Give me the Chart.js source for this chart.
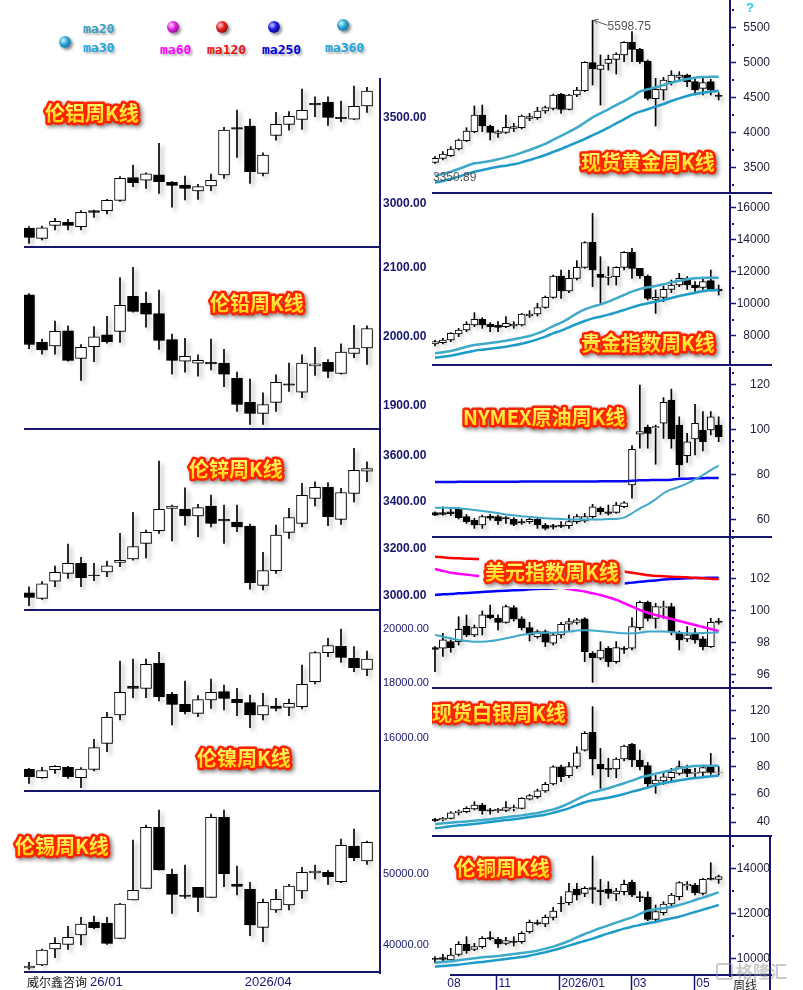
<!DOCTYPE html>
<html>
<head>
<meta charset="utf-8">
<title>周K线</title>
<script src="https://cdn.jsdelivr.net/npm/chart.js@4.4.1/dist/chart.umd.min.js"></script>
<style>
  body { margin: 0; background: #fff; }
  #page { position: relative; width: 803px; height: 990px; overflow: hidden; background: #fff; }
  #charts canvas { position: absolute; }
  .ball { position: absolute; width: 12px; height: 12px; border-radius: 50%; box-shadow: 2px 2px 3px rgba(0,0,0,0.45); }
  .ma { position: absolute; font: bold 13px "DejaVu Sans Mono", monospace; line-height: 14px; text-shadow: 2px 2px 2px rgba(0,0,0,0.3); }
  .note { position: absolute; font: 12px "Noto Sans CJK SC", sans-serif; line-height: 14px; white-space: nowrap; }
  .mark { position: absolute; left: 716px; top: 961px; font: bold 17px "Noto Sans CJK SC"; color: rgba(150,150,150,0.5); line-height: 20px; white-space: nowrap; }
  .mark span { display: inline-block; width: 13px; height: 13px; border: 2px solid rgba(150,150,150,0.5); border-radius: 3px; margin-right: 3px; vertical-align: -2px; }
</style>
</head>
<body>
<div id="page">
  <div id="charts"></div>
  <div class="ball" style="left:59px;top:36px;background:radial-gradient(circle at 35% 35%,#d8f4ff 0,#2aa6d6 40%,#0b4f70 100%)"></div>
  <div class="ma" style="left:83px;top:22px;color:#3a9fbf">ma20</div>
  <div class="ma" style="left:83px;top:41px;color:#1ea8e0">ma30</div>
  <div class="ball" style="left:167px;top:21px;background:radial-gradient(circle at 35% 35%,#ffd8ff 0,#e020e0 40%,#600060 100%)"></div>
  <div class="ma" style="left:160px;top:43px;color:#ff00ff">ma60</div>
  <div class="ball" style="left:216px;top:21px;background:radial-gradient(circle at 35% 35%,#ffd0d0 0,#e02020 40%,#600000 100%)"></div>
  <div class="ma" style="left:207px;top:43px;color:#ee1111">ma120</div>
  <div class="ball" style="left:268px;top:21px;background:radial-gradient(circle at 35% 35%,#c8c8ff 0,#1a1ae0 40%,#000060 100%)"></div>
  <div class="ma" style="left:262px;top:43px;color:#0000dd">ma250</div>
  <div class="ball" style="left:337px;top:19px;background:radial-gradient(circle at 35% 35%,#d8f4ff 0,#2aa6d6 40%,#0b4f70 100%)"></div>
  <div class="ma" style="left:325px;top:41px;color:#22a4d8">ma360</div>
  <div class="note" style="left:746px;top:0px;color:#22ccdd;font:bold 13px 'Liberation Sans'">?</div>
  <div class="note" style="left:27px;top:975px;color:#111">威尔鑫咨询</div>
  <div class="note" style="left:733px;top:978px;color:#222">周线</div>
  <div class="mark"><span></span>格隆汇</div>
</div>
<script>
// weekly OHLC rows: [open, high, low, close]
const aluminium = [
  [2858,2868,2771,2806],[2800,2872,2791,2862],[2876,2917,2849,2899],[2893,2911,2849,2876],
  [2868,2961,2849,2951],[2961,2965,2922,2951],[2961,3027,2942,3021],[3021,3159,3015,3149],
  [3153,3227,3101,3124],[3139,3182,3091,3176],[3169,3353,3062,3130],[3128,3130,2981,3108],
  [3110,3163,3023,3091],[3076,3114,3027,3101],[3105,3174,3077,3137],[3169,3446,3149,3430],
  [3444,3546,3271,3436],[3453,3494,3120,3188],[3178,3298,3163,3285],[3399,3533,3372,3463],
  [3463,3537,3430,3510],[3492,3669,3434,3545],[3585,3624,3508,3577],[3591,3624,3457,3504],
  [3504,3599,3479,3496],[3494,3686,3490,3568],[3570,3678,3533,3657]
];
const lead = [
  [2061,2063,1983,1989],[1992,1997,1975,1981],[1987,2023,1975,2008],[2009,2016,1965,1966],
  [1969,1989,1937,1985],[1986,2015,1964,2000],[2003,2030,1991,1993],[2008,2086,1992,2046],
  [2059,2101,2036,2037],[2049,2065,2014,2033],[2034,2068,1982,1995],[1996,2004,1946,1966],
  [1965,1998,1949,1972],[1962,1974,1943,1966],[1963,1997,1952,1961],[1962,1982,1928,1946],
  [1940,1949,1892,1902],[1905,1939,1873,1889],[1889,1919,1873,1902],[1905,1945,1892,1934],
  [1932,1962,1921,1930],[1920,1974,1912,1962],[1958,1985,1944,1961],[1963,1967,1941,1950],
  [1947,1990,1946,1978],[1976,2017,1970,1984],[1984,2016,1960,2012]
];
const zinc = [
  [3011,3037,2956,2991],[2987,3059,2983,3050],[3061,3126,3037,3099],[3094,3220,3073,3137],
  [3137,3163,3037,3076],[3087,3137,3063,3084],[3101,3147,3080,3127],[3141,3266,3123,3150],
  [3156,3356,3151,3209],[3223,3280,3161,3270],[3277,3576,3266,3369],[3373,3387,3233,3383],
  [3370,3461,3301,3341],[3341,3390,3251,3376],[3383,3430,3294,3309],[3326,3387,3223,3319],
  [3314,3387,3273,3294],[3297,3306,3027,3054],[3043,3184,3023,3106],[3106,3301,3094,3259],
  [3270,3373,3244,3334],[3309,3480,3294,3429],[3416,3487,3383,3463],[3463,3484,3299,3337],
  [3326,3459,3304,3441],[3437,3630,3401,3536],[3533,3573,3487,3544]
];
const nickel = [
  [14832,14869,14318,14563],[14526,14905,14502,14783],[14820,14966,14685,14942],[14905,14942,14502,14563],
  [14526,14893,14159,14844],[14832,15933,14771,15627],[15786,16924,15480,16740],[16826,18807,16642,17658],
  [17878,18881,17462,17804],[17804,18881,17462,18685],[18722,19125,17339,17498],[17584,17658,16459,17217],
  [17217,18073,16862,16948],[16887,17535,16764,17389],[17377,18147,17070,17658],[17682,17927,17009,17437],
  [17401,17804,16801,17278],[17278,17560,16361,16826],[16826,17621,16642,17168],[17156,17437,16972,17070],
  [17107,17413,16801,17254],[17132,18661,17046,17951],[18049,19150,17964,19113],[19113,19639,18966,19370],
  [19346,19982,18759,18942],[18905,19334,18416,18563],[18502,19175,18269,18881]
];
const tin = [
  [36754,37553,36567,37036],[37177,39431,37083,39290],[39431,41027,38210,40229],[40088,42623,39384,41074],
  [41402,43891,39994,42952],[43187,44079,42248,42435],[43046,43891,40088,40229],[40933,45863,40933,45769],
  [46332,54783,46332,47694],[47975,56896,47975,56567],[56614,59009,50558,50558],[49947,50699,44454,47130],
  [47036,51262,46567,46849],[48116,48116,44689,46708],[46708,58445,46708,57976],[57976,59009,48210,50041],
  [48586,51121,47036,48257],[47835,48821,41309,42811],[42482,46473,40463,46004],[44924,47835,44595,46426],
  [45628,48539,44924,48304],[47600,50933,46567,50229],[50135,51262,49290,50417],[50229,50511,48539,49619],
  [48914,54924,48773,54032],[53938,56333,51872,52295],[51825,54642,51356,54455]
];
const gold = [
  [3574,3655,3560,3631],[3631,3726,3608,3693],[3669,3798,3655,3764],[3764,3907,3750,3893],
  [3883,4068,3869,4021],[4011,4377,3997,4249],[4249,4391,4011,4092],[4092,4106,3893,4002],
  [3988,4035,3931,4011],[4002,4249,3988,4073],[4059,4130,4011,4083],[4068,4249,4049,4235],
  [4201,4273,4168,4225],[4211,4358,4187,4306],[4306,4377,4273,4353],[4344,4548,4320,4534],
  [4543,4558,4273,4330],[4330,4543,4320,4534],[4534,4643,4510,4605],[4596,5009,4581,5000],
  [4995,5598.75,4676,4905],[4900,5104,4391,4962],[4985,5104,4890,5042],[5042,5137,4833,5118],
  [5104,5294,5009,5285],[5285,5437,5009,5185],[5185,5199,4985,5009],[5019,5033,4463,4486],
  [4482,4771,4092,4615],[4605,4786,4463,4748],[4724,4881,4676,4819],[4786,4866,4724,4819],
  [4819,4833,4653,4724],[4724,4757,4534,4605],[4629,4771,4534,4710],[4724,4757,4534,4605],
  [4534,4567,4463,4515]
];
const goldMa20 = [3380,3408,3441,3479,3522,3560,3574,3593,3617,3645,3674,3712,3750,3793,3836,3893,3950,4007,4068,4140,
  4216,4273,4330,4391,4448,4510,4581,4615,4643,4676,4710,4738,4762,4781,4790,4795,4795];
const goldMa30 = [3284,3308,3337,3370,3408,3441,3465,3489,3512,3527,3546,3574,3608,3641,3679,3722,3764,3812,3859,3907,
  3959,4011,4068,4130,4187,4249,4296,4330,4368,4406,4448,4486,4520,4548,4567,4581,4596];
const goldPeakWeek = 20;
const goldRangeLow = 3350.89;
const precious = [
  [7481,7730,7356,7626],[7564,7835,7481,7730],[7730,8189,7626,8147],[8105,8459,7939,8355],
  [8355,8876,8251,8710],[8668,9439,8564,9022],[9022,9126,8459,8668],[8710,8814,8251,8564],
  [8668,8876,8251,8522],[8564,9189,8501,8772],[8605,8876,8459,8730],[8668,9397,8605,9355],
  [9230,9563,9147,9355],[9355,10022,9230,9751],[9772,10480,9709,10397],[10397,11792,10334,11730],
  [11730,12105,10334,10792],[10792,12105,10688,11584],[11584,12688,11480,12271],[12271,13875,12209,13813],
  [13834,15646,11063,12105],[11834,12938,10022,11646],[11646,12313,11168,11730],[11688,12313,11168,12271],
  [12271,13251,12105,13209],[13209,13459,11584,12209],[12209,12209,11584,11730],[11730,11792,10230,10334],
  [10272,10855,9397,10397],[10397,11105,10126,10897],[10897,11480,10688,11168],[11168,11896,11063,11584],
  [11584,11688,10897,11168],[11168,11376,10751,11001],[11022,11646,10897,11376],[11438,12105,10855,10897],
  [10917,11168,10542,10792]
];
const preciousMa20 = [6897,6960,7043,7168,7314,7418,7481,7543,7606,7689,7772,7876,7981,8147,8355,8605,8814,9084,9397,9647,
  9814,9959,10126,10334,10542,10751,10917,11022,11105,11209,11334,11438,11521,11584,11626,11626,11626];
const preciousMa30 = [6626,6689,6752,6856,6960,7064,7127,7189,7252,7314,7397,7501,7626,7772,7939,8147,8314,8522,8730,8918,
  9084,9189,9314,9460,9605,9772,9918,10022,10126,10230,10355,10480,10584,10688,10772,10834,10855];
const oil = [
  [63.0,63.4,61.7,61.9],[63.0,65.6,61.9,62.2],[63.4,64.9,61.7,62.5],[64.6,65.2,60.2,60.8],
  [61.2,62.2,58.2,59.0],[59.7,60.5,56.0,57.5],[57.5,61.9,56.0,61.2],[61.5,62.2,59.7,60.5],
  [61.2,61.9,57.8,59.3],[60.8,61.2,58.2,60.2],[60.0,60.8,57.2,57.8],[59.0,60.2,57.8,58.4],
  [59.0,60.5,58.2,60.0],[60.0,60.5,56.0,57.5],[57.5,58.2,55.3,56.0],[57.2,57.8,55.7,56.5],
  [57.5,59.0,56.3,56.9],[57.2,61.9,56.0,59.0],[59.0,62.2,58.2,61.2],[59.3,62.7,58.7,61.2],
  [61.2,66.7,60.5,65.6],[64.9,65.6,62.2,63.4],[63.4,66.4,61.9,62.7],[63.1,67.6,62.7,66.4],
  [65.6,67.9,65.2,67.4],[75.3,92.8,69.4,91.1],[97.9,119.7,91.6,99.0],[100.9,101.9,91.6,98.2],
  [100.7,101.9,84.5,101.2],[102.7,114.1,96.0,112.0],[113.0,117.9,91.6,95.7],[101.9,105.6,79.0,84.2],
  [88.3,98.2,85.3,94.5],[95.7,111.1,88.6,102.7],[99.7,107.9,90.4,94.5],[99.7,107.9,97.5,105.6],
  [101.9,105.6,94.5,96.7]
];
const oilMa20 = [65.2,65.2,65.1,64.9,64.6,64.2,63.7,63.3,62.8,62.2,61.8,61.4,61.1,60.8,60.5,60.3,60.2,60.0,60.0,60.0,
  60.0,60.0,60.2,60.2,60.8,62.7,64.9,66.7,68.9,71.6,73.3,74.5,76.0,77.8,79.7,81.9,83.9];
const oilMa250 = [76.6,76.6,76.6,76.7,76.7,76.7,76.7,76.7,76.7,76.7,76.7,76.8,76.8,76.8,76.8,76.8,76.8,76.8,76.8,76.8,
  76.8,76.9,76.9,76.9,76.9,77.2,77.4,77.4,77.5,77.5,77.6,78.0,78.1,78.2,78.3,78.4,78.4];
const usd = [
  [97.67,97.73,96.17,97.56],[97.63,98.56,97.11,98.15],[98.04,98.15,97.38,97.67],[98.04,99.60,97.83,98.81],
  [99.02,99.71,98.35,98.46],[98.46,99.08,98.35,98.92],[98.92,99.96,98.46,99.71],[99.71,100.33,99.46,99.54],
  [99.50,99.71,98.77,99.25],[99.25,100.33,99.19,100.23],[100.17,100.29,99.33,99.46],[99.46,99.60,98.77,98.92],
  [98.92,99.25,98.08,98.46],[98.35,98.77,98.25,98.67],[98.67,98.77,97.73,98.00],[97.94,98.56,97.83,98.46],
  [98.46,99.25,98.25,99.13],[99.13,99.50,98.67,99.29],[99.25,99.50,99.13,99.40],[99.46,99.54,96.79,97.42],
  [97.31,97.42,95.50,97.04],[97.00,98.04,96.90,97.52],[97.63,97.73,96.48,96.79],[96.79,98.04,96.69,97.67],
  [97.63,97.73,97.31,97.56],[97.63,99.54,97.52,98.98],[98.92,100.58,98.77,100.50],[100.50,100.58,99.33,99.50],
  [99.50,100.44,98.88,100.23],[100.17,100.58,99.50,100.23],[100.23,100.44,98.46,98.67],[98.56,98.71,97.52,98.15],
  [98.21,98.98,98.04,98.46],[98.50,98.88,97.94,98.15],[98.21,98.35,97.52,97.73],[97.73,99.50,97.67,99.25],
  [99.33,99.50,99.13,99.25]
];
const usdMa20 = [98.46,98.35,98.25,98.15,98.08,98.04,98.04,98.08,98.15,98.25,98.35,98.46,98.54,98.58,98.60,98.60,98.63,98.67,98.73,98.75,
  98.73,98.69,98.65,98.60,98.56,98.56,98.60,98.67,98.67,98.67,98.65,98.60,98.56,98.56,98.58,98.60,98.63];
const usdMa60 = [102.58,102.46,102.35,102.29,102.23,102.17,102.13,102.08,102.04,102.00,101.94,101.85,101.77,101.69,101.60,101.52,101.42,101.33,101.25,101.17,
  101.06,100.96,100.81,100.65,100.44,100.23,100.02,99.85,99.71,99.58,99.46,99.33,99.21,99.08,98.96,98.83,98.71];
const usdMa120 = [103.35,103.31,103.27,103.25,103.23,103.21,103.19,103.15,103.10,103.06,103.02,102.98,102.94,102.90,102.85,102.81,102.77,102.73,102.69,102.65,
  102.60,102.56,102.52,102.48,102.42,102.35,102.27,102.19,102.15,102.13,102.10,102.08,102.06,102.04,102.00,101.98,101.94];
const usdMa250 = [100.96,101.00,101.02,101.06,101.08,101.12,101.15,101.17,101.21,101.23,101.25,101.27,101.31,101.33,101.35,101.37,101.42,101.44,101.46,101.50,
  101.52,101.56,101.58,101.62,101.67,101.73,101.79,101.83,101.87,101.92,101.96,101.98,102.00,102.02,102.02,102.04,102.04];
const silver = [
  [42.0,42.7,40.3,41.0],[41.5,43.4,40.8,42.7],[42.7,47.5,42.2,46.7],[46.7,48.7,45.1,47.9],
  [47.5,51.0,46.7,49.8],[49.4,54.6,48.7,52.2],[52.2,53.4,45.6,48.2],[48.7,49.8,45.6,47.9],
  [48.2,49.8,47.0,49.1],[48.4,54.6,47.5,50.3],[49.4,52.2,47.9,50.3],[49.8,57.5,49.4,57.0],
  [56.5,59.9,55.8,58.9],[58.2,63.7,57.0,62.3],[62.3,68.5,61.3,67.0],[67.3,80.4,66.6,79.5],
  [79.5,80.9,68.9,72.5],[73.2,82.8,71.8,79.7],[79.9,94.0,78.5,89.7],[91.6,104.8,90.9,103.6],
  [104.3,122.7,73.7,85.2],[81.4,92.8,64.2,78.0],[78.5,85.7,72.5,77.8],[78.0,86.1,71.8,85.2],
  [85.2,95.2,83.8,94.5],[95.7,96.4,79.7,84.5],[84.5,91.6,77.3,79.7],[80.4,82.8,65.4,67.3],
  [67.3,73.7,60.6,70.1],[69.4,75.6,67.0,72.5],[71.8,78.5,69.4,75.6],[74.9,83.8,73.7,79.7],
  [78.0,80.9,72.5,74.9],[74.9,78.5,71.8,75.6],[75.6,80.9,72.5,79.0],[79.7,89.2,74.2,75.6],
  [75.6,79.7,73.7,75.8]
];
const silverMa20 = [38.4,39.1,39.6,40.1,40.5,41.0,41.5,42.0,42.7,43.4,44.1,44.8,45.6,46.5,47.7,49.1,51.0,53.4,56.3,58.9,
  61.3,62.7,64.2,66.1,67.8,69.7,71.8,73.2,74.7,75.9,77.1,78.5,79.5,80.2,80.4,80.4,80.4];
const silverMa30 = [35.5,36.2,37.0,37.7,38.1,38.6,39.3,40.1,40.8,41.5,42.0,42.7,43.6,44.4,45.3,46.7,48.2,49.8,52.2,54.2,
  55.6,56.5,57.5,58.7,60.1,61.8,63.2,64.7,66.6,68.0,68.9,69.9,70.9,71.6,72.1,72.8,73.2];
const copper = [
  [10018,10092,9826,9974],[10048,10196,9826,9974],[9944,10463,9870,10166],[10196,10759,10122,10640],
  [10640,10981,10240,10359],[10418,10685,10359,10537],[10537,10981,10463,10907],[10937,11203,10833,10877],
  [10863,10951,10507,10655],[10685,10951,10611,10803],[10788,10981,10566,10729],[10759,11203,10685,11129],
  [11203,11721,11129,11618],[11603,11721,11499,11544],[11544,11943,11425,11840],[11840,12284,11721,12121],
  [12477,12758,12092,12432],[12491,13350,12388,12980],[13099,13350,12610,12832],[12906,13202,12758,13128],
  [13158,14565,12462,13084],[13054,13528,12388,12980],[13099,13425,12684,12906],[12877,13128,12580,13010],
  [12980,13499,12832,13306],[13395,13499,12758,12832],[12758,12980,12536,12714],[12728,12980,11692,11751],
  [11751,12388,11647,12092],[12047,12536,11943,12432],[12432,12906,12343,12832],[12758,13425,12610,13380],
  [13232,13425,13054,13306],[13276,13350,12832,12936],[12906,13572,12832,13528],[13572,14269,13499,13528],
  [13528,13721,13350,13647]
];
const copperMa20 = [9826,9855,9885,9929,9974,10018,10063,10092,10122,10166,10211,10255,10300,10359,10448,10537,10655,10788,10951,11099,
  11233,11366,11484,11603,11721,11840,11988,12136,12195,12240,12299,12388,12491,12610,12714,12832,12951];
const copperMa30 = [9648,9678,9707,9737,9781,9826,9855,9900,9944,9989,10033,10077,10137,10211,10285,10374,10477,10581,10685,10788,
  10892,11011,11129,11233,11336,11425,11499,11573,11632,11721,11795,11869,11973,12077,12180,12284,12388];

// axis ticks
const aluminiumTicks = [3000, 3500];
const leadTicks = [1900, 2000, 2100];
const zincTicks = [3000, 3200, 3400, 3600];
const nickelTicks = [16000, 18000, 20000];
const tinTicks = [40000, 50000];
const goldTicks = [3500, 4000, 4500, 5000, 5500];
const preciousTicks = [8000, 10000, 12000, 14000, 16000];
const oilTicks = [60, 80, 100, 120];
const usdTicks = [96, 98, 100, 102];
const silverTicks = [40, 60, 80, 100, 120];
const copperTicks = [10000, 12000, 14000];
const leftWeekTicks = [4.7, 16.6];
const leftWeekLabels = ['26/01', '2026/04'];
const rightWeekTicks = [1.3, 7.8, 15.8, 24.9, 32.9];
const rightWeekLabels = ['08', '11', '2026/01', '03', '05'];

const NAVY = '#16166e';
const TEAL1 = '#3fa9c9';
const TEAL2 = '#1e9bc8';
const boldFont = { family: 'Liberation Sans', size: 12, weight: 'bold' };
const smallFont = { family: 'Liberation Sans', size: 11 };
const rightFont = { family: 'Liberation Sans', size: 12 };

function drawTitle(ctx, text, x, y) {
  ctx.save();
  ctx.font = 'bold 20px "Noto Sans CJK SC"';
  ctx.textAlign = 'left';
  ctx.textBaseline = 'middle';
  const w = ctx.measureText(text).width;
  ctx.fillStyle = '#fff';
  ctx.fillRect(x - 4, y - 16, w + 12, 33);
  ctx.lineJoin = 'round';
  ctx.shadowColor = 'rgba(0,0,0,0.5)';
  ctx.shadowBlur = 4;
  ctx.shadowOffsetX = 2;
  ctx.shadowOffsetY = 2;
  ctx.strokeStyle = '#ff2200';
  ctx.lineWidth = 5;
  ctx.strokeText(text, x + 2, y);
  ctx.shadowColor = 'rgba(0,0,0,0)';
  const g = ctx.createLinearGradient(0, y - 10, 0, y + 10);
  g.addColorStop(0, '#ffff70');
  g.addColorStop(1, '#ffcc00');
  ctx.fillStyle = g;
  ctx.fillText(text, x + 2, y);
  ctx.restore();
}

// shadows under candles, frame lines, minor ticks, titles
const decor = {
  id: 'decor',
  beforeDatasetDraw(chart, args) {
    if (args.meta.type !== 'bar') return;
    const c = chart.ctx;
    c.save();
    c.shadowColor = 'rgba(0,0,0,0.38)';
    c.shadowBlur = 4;
    c.shadowOffsetX = 3;
    c.shadowOffsetY = 3;
  },
  afterDatasetDraw(chart, args) {
    if (args.meta.type === 'bar') chart.ctx.restore();
  },
  afterDraw(chart, args, o) {
    const { ctx, chartArea: a } = chart;
    const xs = chart.scales.x, ys = chart.scales.y;
    ctx.save();
    ctx.strokeStyle = NAVY;
    ctx.lineWidth = 2;
    ctx.beginPath();
    ctx.moveTo(a.left + (o.box ? 18 : 0), a.bottom - 1);
    ctx.lineTo(o.left ? a.right : a.right + 42, a.bottom - 1);
    ctx.stroke();
    if (o.box) {
      ctx.beginPath();
      ctx.moveTo(a.right + 40, a.top);
      ctx.lineTo(a.right + 40, chart.height);
      ctx.stroke();
    }
    if (o.minor) {
      ctx.fillStyle = NAVY;
      const k0 = Math.ceil(ys.min / o.minor), k1 = Math.floor(ys.max / o.minor);
      for (let k = k0; k <= k1; k++) {
        const v = k * o.minor;
        if (o.ticks.some(t => Math.abs(t - v) < 1e-6)) continue;
        ctx.fillRect(a.right + 2, Math.round(ys.getPixelForValue(v)) - 1, 2, 2);
      }
    }
    if (o.peakWeek !== undefined) {
      const px = xs.getPixelForValue(o.peakWeek), py = ys.getPixelForValue(o.peakValue);
      ctx.strokeStyle = '#555';
      ctx.lineWidth = 1;
      ctx.beginPath();
      ctx.moveTo(px + 1, py);
      ctx.lineTo(px + 15, py + 5);
      ctx.moveTo(px + 6, py - 1);
      ctx.lineTo(px + 1, py);
      ctx.lineTo(px + 5, py + 4);
      ctx.stroke();
      ctx.fillStyle = '#555';
      ctx.font = '12px "Liberation Sans"';
      ctx.textBaseline = 'middle';
      ctx.fillText(o.peakValue.toFixed(2), px + 15, py + 6);
      ctx.fillText(o.lowValue.toFixed(2), 1, ys.getPixelForValue(o.lowValue));
    }
    ctx.restore();
    drawTitle(ctx, o.title, o.tx - o.cx, o.ty - o.top);
  }
};

const panels = [
  { col: 'L', top: 78, bottom: 248, rows: aluminium, min: 2744, max: 3733, ticks: aluminiumTicks, font: boldFont, title: '伦铝周K线', tx: 43, ty: 113 },
  { col: 'L', top: 248, bottom: 430, rows: lead, min: 1865, max: 2129, ticks: leadTicks, font: boldFont, title: '伦铅周K线', tx: 208, ty: 303 },
  { col: 'L', top: 430, bottom: 611, rows: zinc, min: 2933, max: 3709, ticks: zincTicks, font: boldFont, title: '伦锌周K线', tx: 187, ty: 469 },
  { col: 'L', top: 611, bottom: 792, rows: nickel, min: 14000, max: 20642, ticks: nickelTicks, font: smallFont, title: '伦镍周K线', tx: 195, ty: 758 },
  { col: 'L', top: 792, bottom: 973, rows: tin, min: 36050, max: 61544, ticks: tinTicks, font: smallFont, title: '伦锡周K线', tx: 13, ty: 846,
    xTicks: leftWeekTicks, xLabels: leftWeekLabels },
  { col: 'R', top: 0, bottom: 194, rows: gold, min: 3123, max: 5888, ticks: goldTicks, pad: 6, minor: 250, title: '现货黄金周K线', tx: 579, ty: 162,
    lines: [{ values: goldMa20, color: TEAL1, width: 2.5 }, { values: goldMa30, color: TEAL2, width: 2.5 }],
    peakWeek: goldPeakWeek, peakValue: gold[goldPeakWeek][1], lowValue: goldRangeLow },
  { col: 'R', top: 195, bottom: 366, rows: precious, min: 6106, max: 16792, ticks: preciousTicks, pad: 0, minor: 1000, title: '贵金指数周K线', tx: 579, ty: 343,
    lines: [{ values: preciousMa20, color: TEAL1, width: 2.5 }, { values: preciousMa30, color: TEAL2, width: 2.5 }] },
  { col: 'R', top: 367, bottom: 538, rows: oil, min: 51.73, max: 127.7, ticks: oilTicks, pad: 13, minor: 5, title: 'NYMEX原油周K线', tx: 461, ty: 417,
    lines: [{ values: oilMa20, color: TEAL1, width: 2 }, { values: oilMa250, color: '#0a0af0', width: 2.5 }] },
  { col: 'R', top: 538, bottom: 689, rows: usd, min: 95.08, max: 104.52, ticks: usdTicks, pad: 13, minor: 0.5, title: '美元指数周K线', tx: 483, ty: 572,
    lines: [{ values: usdMa20, color: TEAL1, width: 2 }, { values: usdMa60, color: '#ff00ff', width: 2.5 },
            { values: usdMa120, color: '#ff0000', width: 2.5 }, { values: usdMa250, color: '#0000ff', width: 2.5 }] },
  { col: 'R', top: 689, bottom: 837, rows: silver, min: 29.31, max: 135.34, ticks: silverTicks, pad: 13, minor: 10, title: '现货白银周K线', tx: 430, ty: 713,
    lines: [{ values: silverMa20, color: TEAL1, width: 2.5 }, { values: silverMa30, color: TEAL2, width: 2.5 }] },
  { col: 'R', top: 836, bottom: 976, rows: copper, min: 9233, max: 15453, ticks: copperTicks, pad: 0, minor: 1000, title: '伦铜周K线', tx: 454, ty: 868, box: true,
    lines: [{ values: copperMa20, color: TEAL1, width: 2.5 }, { values: copperMa30, color: TEAL2, width: 2.5 }],
    xTicks: rightWeekTicks, xLabels: rightWeekLabels }
];

const holder = document.getElementById('charts');

function makePanel(p) {
  const left = p.col === 'L';
  const cx = left ? 0 : 432;
  const cw = left ? 431 : 371;
  const axisH = p.xTicks ? (left ? 17 : 14) : 0;
  const ch = p.bottom - p.top + axisH;
  const cv = document.createElement('canvas');
  cv.width = cw;
  cv.height = ch;
  cv.style.left = cx + 'px';
  cv.style.top = p.top + 'px';
  cv.style.width = cw + 'px';
  cv.style.height = ch + 'px';
  holder.appendChild(cv);

  const datasets = [
    {
      type: 'bar', order: 0, grouped: false, barThickness: left ? 11 : 7,
      data: p.rows.map((r, i) => ({ x: i, y: [r[0], r[3]] })),
      backgroundColor: p.rows.map(r => (r[3] >= r[0] ? '#ffffff' : '#000000')),
      borderColor: '#000', borderWidth: 1, borderSkipped: false
    },
    {
      type: 'bar', order: 1, grouped: false, barThickness: 1,
      data: p.rows.map((r, i) => ({ x: i, y: [r[2], r[1]] })),
      backgroundColor: '#000', borderWidth: 0, borderSkipped: false
    }
  ];
  (p.lines || []).forEach(l => datasets.push({
    type: 'line', order: -1,
    data: l.values.map((v, i) => ({ x: i, y: v })),
    borderColor: l.color, borderWidth: l.width, pointRadius: 0, tension: 0.2
  }));

  new Chart(cv, {
    type: 'bar',
    data: { datasets },
    plugins: [decor],
    options: {
      responsive: false,
      animation: false,
      devicePixelRatio: 1,
      events: [],
      layout: { autoPadding: false, padding: { left: left ? 24 : 0, right: left ? 0 : 33, top: 0, bottom: 0 } },
      plugins: {
        legend: { display: false },
        tooltip: { enabled: false },
        decor: {
          left, cx, top: p.top, title: p.title, tx: p.tx, ty: p.ty, minor: p.minor, ticks: p.ticks, box: !!p.box,
          peakWeek: p.peakWeek, peakValue: p.peakValue, lowValue: p.lowValue
        }
      },
      scales: {
        x: {
          type: 'linear', offset: false,
          min: left ? -0.385 : -0.38,
          max: left ? 27.0 : 37.44,
          display: !!p.xTicks,
          afterBuildTicks: s => { if (p.xTicks) s.ticks = p.xTicks.map(v => ({ value: v })); },
          afterFit: s => { s.height = axisH; s.paddingLeft = 0; s.paddingRight = 0; },
          border: { display: false },
          grid: {
            offset: false, drawOnChartArea: false, drawTicks: true, tickLength: axisH || 1, tickWidth: 1.5,
            tickColor: c => ((left || c.index === 0) ? 'rgba(0,0,0,0)' : NAVY)
          },
          ticks: {
            autoSkip: false, maxRotation: 0, align: 'start', padding: left ? -15 : -14, labelOffset: left ? 0 : 2,
            color: NAVY, font: { family: 'Liberation Sans', size: left ? 13 : 12 },
            callback: (v, i) => (p.xLabels ? p.xLabels[i] : '')
          }
        },
        y: {
          type: 'linear', position: 'right', min: p.min, max: p.max,
          afterBuildTicks: s => { s.ticks = p.ticks.map(v => ({ value: v })); },
          afterFit: s => { s.width = left ? 51 : 40; s.paddingTop = 0; s.paddingBottom = 0; },
          border: { color: NAVY, width: 2 },
          grid: { drawOnChartArea: false, drawTicks: !left, tickLength: 6, tickWidth: 1.5, tickColor: NAVY },
          ticks: {
            crossAlign: left ? 'near' : 'far',
            padding: left ? 3 : p.pad,
            color: left ? NAVY : '#1e1e3a',
            font: left ? p.font : rightFont,
            callback: v => (left ? v.toFixed(2) : String(v))
          }
        }
      }
    }
  });
}

panels.forEach(makePanel);
</script>
</body>
</html>
